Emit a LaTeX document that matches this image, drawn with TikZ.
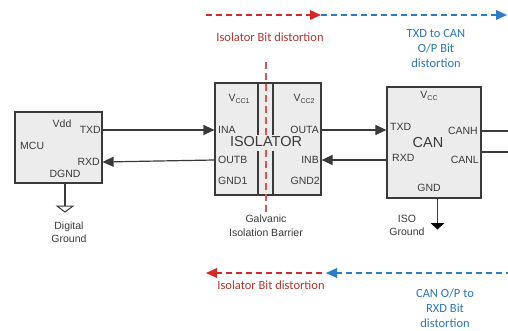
\documentclass[tikz,border=0pt]{standalone}
\usepackage{fontspec}
\setmainfont{Liberation Sans}
\newfontfamily\notefont{Carlito}
\usetikzlibrary{arrows.meta,positioning,calc}
\definecolor{chipgray}{HTML}{ECECEC}
\definecolor{dark}{HTML}{3A3A3A}
\definecolor{isored}{HTML}{D02A2A}
\definecolor{isoredtxt}{HTML}{B0372E}
\definecolor{canblue}{HTML}{2E7BC6}
\definecolor{canbluetxt}{HTML}{2F75B5}
\tikzset{
  chip/.style={draw=dark, fill=chipgray, line width=1.2pt, inner sep=0pt},
  pin/.style={font=\fontsize{10.5}{12}\selectfont, text=dark, inner sep=0pt},
  bigname/.style={font=\fontsize{14.5}{16}\selectfont, text=dark, inner sep=0pt},
  note/.style={font=\notefont\fontsize{12.5}{15}\selectfont, align=center, inner sep=0pt},
  sig/.style={-{Triangle[length=11pt, width=10pt]}, draw=dark, line width=1.2pt},
  wire/.style={draw=dark, line width=1.2pt},
  reddash/.style={draw=isored, line width=1.5pt, dash pattern=on 6pt off 4pt},
  bluedash/.style={draw=canblue, line width=1.5pt, dash pattern=on 6pt off 4pt}
}
\newcommand{\vccsub}[1]{V\raisebox{-1.5pt}{\fontsize{7}{8}\selectfont #1}}

\begin{document}
\begin{tikzpicture}[x=1pt, y=-1pt]
  \useasboundingbox[fill=white] (0,0) rectangle (508,330);

  % chips
  \node[chip, minimum width=87pt, minimum height=71pt] (mcu) at (58.5,147.5) {};
  \node[chip, minimum width=106pt, minimum height=112pt] (iso) at (268,139) {};
  \node[chip, minimum width=94pt, minimum height=111pt] (can) at (434,142.5) {};

  % isolation barrier inside the isolator
  \draw[dark, line width=1.2pt] (258,83) -- (258,135) (258,151) -- (258,195);
  \draw[dark, line width=1.2pt] (273,83) -- (273,135) (273,151) -- (273,195);
  \draw[isored!80, line width=1.2pt, dash pattern=on 7pt off 4pt] (266,62) -- (266,212);

  % MCU pins
  \node[pin] (vdd) at (62,124) {Vdd};
  \node[pin, anchor=west] (mcuname) at (20,146) {MCU};
  \node[pin, anchor=east] (mtxd) at (101,130) {TXD};
  \node[pin, anchor=east] (mrxd) at (100,162) {RXD};
  \node[pin] (dgnd) at (65,174) {DGND};

  % isolator pins
  \node[pin] (vcc1) at (239,99) {\vccsub{CC1}};
  \node[pin] (vcc2) at (304,99) {\vccsub{CC2}};
  \node[pin, anchor=west] (ina) at (218,130) {INA};
  \node[pin, anchor=east] (outa) at (319,130) {OUTA};
  \node[bigname, fill=chipgray, inner sep=1pt] (isoname) at (266,142) {ISOLATOR};
  \node[pin, anchor=west] (outb) at (218,160) {OUTB};
  \node[pin, anchor=east] (inb) at (319,160) {INB};
  \node[pin, anchor=west] (gnd1) at (218,181) {GND1};
  \node[pin, anchor=east] (gnd2) at (320,181) {GND2};

  % CAN pins
  \node[pin] (vcc) at (429,96) {\vccsub{CC}};
  \node[pin, anchor=west] (ctxd) at (390,127) {TXD};
  \node[bigname] (canname) at (428,143) {CAN};
  \node[pin, anchor=east] (canh) at (478,131) {CANH};
  \node[pin, anchor=west] (crxd) at (392,158) {RXD};
  \node[pin, anchor=east] (canl) at (479,160) {CANL};
  \node[pin] (cgnd) at (429,188) {GND};

  % signals
  \draw[sig] (mcu.east |- mtxd) -- (iso.west |- mtxd);
  \draw[sig] (iso.west |- 0,160) -- (mcu.east |- mrxd);
  \draw[sig] (iso.east |- outa) -- (can.west |- outa);
  \draw[sig] (can.west |- inb) -- (iso.east |- inb);
  \coordinate (busH) at (508,131);
  \coordinate (busL) at (508,152);
  \draw[wire] (can.east |- busH) -- (busH);
  \draw[wire] (can.east |- busL) -- (busL);

  % grounds
  \coordinate (dgtop) at (65,206);
  \draw[wire] (mcu.south -| dgtop) -- (dgtop);
  \draw[dark, line width=1pt, fill=white] (57,206) -- (73,206) -- (65,212) -- cycle;
  \node[pin, align=center, font=\fontsize{10.5}{13}\selectfont] (dglabel) at (69,232) {Digital\\Ground};
  \coordinate (igtop) at (437.5,223);
  \draw[wire] (can.south -| igtop) -- (igtop);
  \fill[black] (430.5,223) -- (444.5,223) -- (437.5,229.5) -- cycle;
  \node[pin, align=center, font=\fontsize{10.5}{13}\selectfont] (iglabel) at (407,225) {ISO\\Ground};
  \node[pin, align=center, font=\fontsize{10.5}{14}\selectfont] (barrier) at (266,226) {Galvanic\\Isolation Barrier};

  % bit distortion arrows, top
  \coordinate (tA) at (206,15);
  \coordinate (tB) at (321,15);
  \coordinate (tC) at (507,15);
  \draw[reddash] (tA) -- ($(tB)+(-9,0)$);
  \fill[isored] (tB) -- ++(-11,-5) -- ++(0,10) -- cycle;
  \draw[bluedash] (tB) -- ($(tC)+(-9,0)$);
  \fill[canblue] (tC) -- ++(-11,-5) -- ++(0,10) -- cycle;
  \node[note, text=isoredtxt] (isotop) at (270,37) {Isolator Bit distortion};
  \node[note, text=canbluetxt] (cantop) at (436,48) {TXD to CAN\\O/P Bit\\distortion};

  % bit distortion arrows, bottom
  \coordinate (bA) at (206,273);
  \coordinate (bB) at (326,273);
  \coordinate (bC) at (508,273);
  \fill[isored] (bA) -- ++(11,-5) -- ++(0,10) -- cycle;
  \draw[reddash] ($(bA)+(10,0)$) -- (bB);
  \fill[canblue] (bB) -- ++(11,-5) -- ++(0,10) -- cycle;
  \draw[bluedash] ($(bB)+(10,0)$) -- (bC);
  \node[note, text=isoredtxt] (isobot) at (271,285) {Isolator Bit distortion};
  \node[note, text=canbluetxt] (canbot) at (445,308) {CAN O/P to\\RXD Bit\\distortion};
\end{tikzpicture}
\end{document}
